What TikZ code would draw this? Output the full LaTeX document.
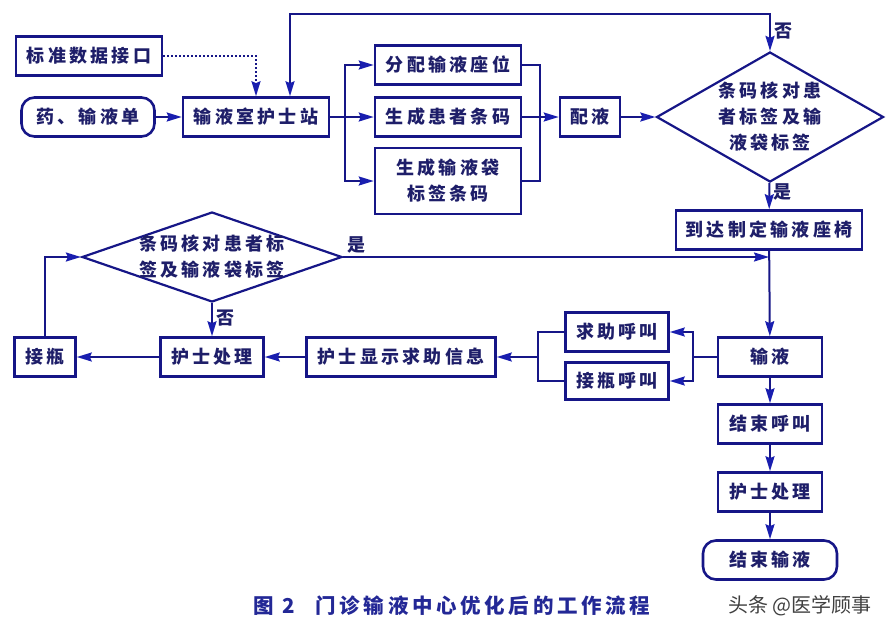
\documentclass[tikz,border=0pt]{standalone}
\usepackage{fontspec}
\newfontfamily\cjk{Noto Sans CJK SC}[LetterSpace=18]
\newfontfamily\cjkplain{Noto Sans CJK SC}
\usetikzlibrary{arrows.meta,positioning,shapes.geometric}
\definecolor{lineblue}{RGB}{22,22,135}
\definecolor{tipblue}{RGB}{25,30,175}
\definecolor{textblue}{RGB}{30,30,105}
\definecolor{capblue}{RGB}{35,40,150}

\begin{document}
\begin{tikzpicture}[x=1pt,y=-1pt] % pixel coordinates, y grows downwards
\tikzset{box/.style={draw=lineblue, line width=2.6pt, fill=white, text=textblue, font=\cjk\bfseries\fontsize{18}{26}\selectfont, minimum height=39pt, inner sep=2pt, align=center}} % plain step box
\tikzset{endbox/.style={box, rounded corners=13pt}} % start and end
\tikzset{choice/.style={box, diamond, aspect=2.5, line width=2.2pt, inner sep=-20pt}} % barcode check
\tikzset{line/.style={draw=lineblue, line width=2pt}}
\tikzset{link/.style={line, -{Stealth[length=15pt,width=9pt,inset=2pt,color=tipblue]}}}
\tikzset{twoway/.style={line, {Stealth[length=15pt,width=9pt,inset=2pt,color=tipblue]}-{Stealth[length=15pt,width=9pt,inset=2pt,color=tipblue]}}}
\tikzset{tag/.style={text=textblue, font=\cjk\bfseries\fontsize{18}{20}\selectfont, inner sep=3pt}} % yes / no
\useasboundingbox (0,0) rectangle (896,640);

% top row
\node[box, minimum width=146pt] (port) at (89,56) {标准数据接口};
\node[endbox, minimum width=133pt] (order) at (88,117) {药、输液单};
\node[box, minimum width=146pt] (station) at (256,117) {输液室护士站};
\node[box, minimum width=146pt] (seat) at (448,65) {分配输液座位};
\node[box, minimum width=146pt] (pcode) at (448,117) {生成患者条码};
\node[box, minimum width=146pt, minimum height=66pt] (bcode) at (448,181) {生成输液袋\\标签条码};
\node[box, minimum width=60pt] (mix) at (590,117) {配液};
\node[choice, minimum width=227pt, minimum height=130pt] (check) at (770,117) {条码核对患\\者标签及输\\液袋标签};
\node[box, minimum width=186pt] (chair) at (769,230) {到达制定输液座椅};

% middle row
\node[choice, minimum width=260pt, minimum height=90pt] (recheck) at (212,257) {条码核对患者标\\签及输液袋标签};
\node[box, minimum width=104pt] (drip) at (770,357) {输液};
\node[box, minimum width=103pt] (help) at (617,332) {求助呼叫};
\node[box, minimum width=103pt, minimum height=37pt] (swap) at (617,381) {接瓶呼叫};
\node[box, minimum width=189pt] (show) at (401,357) {护士显示求助信息};
\node[box, minimum width=103pt] (nurse) at (212,357) {护士处理};
\node[box, minimum width=61pt] (rebottle) at (45,357) {接瓶};

% right column
\node[box, minimum width=104pt] (stop) at (770,424) {结束呼叫};
\node[box, minimum width=104pt] (nurse2) at (770,492) {护士处理};
\node[endbox, minimum width=134pt] (finish) at (770,560) {结束输液};

\node[text=capblue, font=\cjk\bfseries\fontsize{20.5}{22}\selectfont] (caption) at (452,606) {图 2\quad 门诊输液中心优化后的工作流程};
\node[text=black!75, font=\cjkplain\fontsize{20}{22}\selectfont] (mark) at (800,606) {头条 @医学顾事};

% connectors
\coordinate (loop) at (770,14);
\coordinate (fork) at (345,117);
\coordinate (join) at (540,117);
\coordinate (split) at (693,357);
\coordinate (gather) at (538,357);
\draw[link] (order) -- (station);
\draw[link, dash pattern=on 2pt off 2pt] (port) -| (station.north);
\draw[twoway] (check.north) -- node[tag, right, pos=0.55] {否} (loop) -| ([xshift=34pt]station.north);
\draw[link] (station) -- (pcode);
\draw[link] (fork) |- (seat);
\draw[link] (fork) |- (bcode);
\draw[line] (seat) -| (join);
\draw[line] (bcode) -| (join);
\draw[link] (pcode) -- (mix);
\draw[link] (mix) -- (check);
\draw[link] (check) -- node[tag, right, pos=0.35] {是} (chair);
\draw[link] (chair) -- (drip);
\draw[link] (recheck) -- node[tag, above right, pos=0] {是} (chair.south |- recheck.east);
\draw[line] (drip) -- (split);
\draw[link] (split) |- (help);
\draw[link] (split) |- (swap);
\draw[line] (help) -| (gather);
\draw[line] (swap) -| (gather);
\draw[link] (gather) -- (show);
\draw[link] (show) -- (nurse);
\draw[link] (nurse) -- (rebottle);
\draw[link] (rebottle) |- (recheck);
\draw[link] (recheck) -- node[tag, right, pos=0.45] {否} (nurse);
\draw[link] (drip) -- (stop);
\draw[link] (stop) -- (nurse2);
\draw[link] (nurse2) -- (finish);
\end{tikzpicture}
\end{document}
